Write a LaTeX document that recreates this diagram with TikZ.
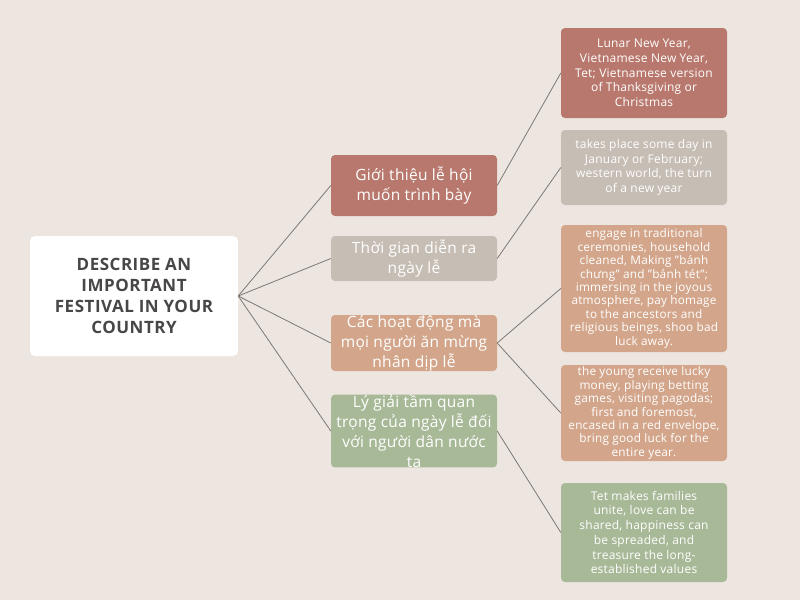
\documentclass[tikz,border=0pt]{standalone}
\usepackage{fontspec}
\setmainfont{Open Sans}[LetterSpace=2]
\newfontfamily\titlefont{Open Sans}[LetterSpace=3]
\usepackage{xcolor}
\definecolor{bgbeige}{RGB}{237,229,223}
\definecolor{tetred}{RGB}{184,120,109}
\definecolor{tetgray}{RGB}{198,189,180}
\definecolor{tettan}{RGB}{211,166,139}
\definecolor{tetgreen}{RGB}{168,185,152}
\definecolor{titlegray}{RGB}{72,70,70}
\definecolor{linkgray}{RGB}{125,120,116}
\newcommand{\dq}{\symbol{34}}

\begin{document}
\begin{tikzpicture}[x=1pt,y=-1pt,
  topic/.style={fill=white,rounded corners=5pt,minimum width=208pt,minimum height=120pt,
    align=center,text=titlegray,font=\titlefont\fontsize{17}{21}\selectfont\bfseries},
  branch/.style={rounded corners=4pt,minimum width=166pt,inner sep=0pt,align=center,
    text=white,font=\fontsize{15.5}{20}\selectfont},
  leaf/.style={rounded corners=4pt,minimum width=166pt,inner sep=0pt,align=center,
    text=white,font=\fontsize{12}{14.7}\selectfont},
  tightleaf/.style={leaf,font=\fontsize{11.8}{13.4}\selectfont},
  link/.style={linkgray,line width=0.8pt}]
  \fill[bgbeige] (0,0) rectangle (800,600);
  \useasboundingbox (0,0) rectangle (800,600);
  % main topic
  \node[topic] (festival) at (134,296) {DESCRIBE AN\\IMPORTANT\\FESTIVAL IN YOUR\\COUNTRY};
  % branches
  \node[branch,fill=tetred,minimum height=61pt] (intro) at (414,185.5) {Giới thiệu lễ hội\\muốn trình bày};
  \node[branch,fill=tetgray,minimum height=45pt] (time) at (414,258.5) {Thời gian diễn ra\\ngày lễ};
  \node[branch,fill=tettan,minimum height=56pt] (activity) at (414,343) {Các hoạt động mà\\mọi người ăn mừng\\nhân dịp lễ};
  \node[branch,fill=tetgreen,minimum height=70pt] (meaning) at (414,431) {Lý giải tầm quan\\trọng của ngày lễ đối\\với người dân nước\\ta};
  % leaves
  \node[leaf,fill=tetred,minimum height=90pt] (names) at (644,73) {Lunar New Year,\\Vietnamese New Year,\\Tet; Vietnamese version\\of Thanksgiving or\\Christmas};
  \node[leaf,fill=tetgray,minimum height=75pt] (when) at (644,167.5) {takes place some day in\\January or February;\\western world, the turn\\of a new year};
  \node[tightleaf,fill=tettan,minimum height=127pt] (customs) at (644,288.5) {engage in traditional\\ceremonies, household\\cleaned, Making \dq bánh\\chưng\dq{} and \dq bánh tét\dq;\\immersing in the joyous\\atmosphere, pay homage\\to the ancestors and\\religious beings, shoo bad\\luck away.};
  \node[tightleaf,fill=tettan,minimum height=96pt] (games) at (644,413) {the young receive lucky\\money, playing betting\\games, visiting pagodas;\\first and foremost,\\encased in a red envelope,\\bring good luck for the\\entire year.};
  \node[leaf,fill=tetgreen,minimum height=99pt] (values) at (644,532.5) {Tet makes families\\unite, love can be\\shared, happiness can\\be spreaded, and\\treasure the long-\\established values};
  % connectors
  \foreach \b in {intro,time,activity,meaning}{
    \draw[link] (festival.east) -- (\b.west);
  }
  \draw[link] (intro.east) -- (names.west);
  \draw[link] (time.east) -- (when.west);
  \draw[link] (activity.east) -- (customs.west);
  \draw[link] (activity.east) -- (games.west);
  \draw[link] (meaning.east) -- (values.west);
\end{tikzpicture}
\end{document}
